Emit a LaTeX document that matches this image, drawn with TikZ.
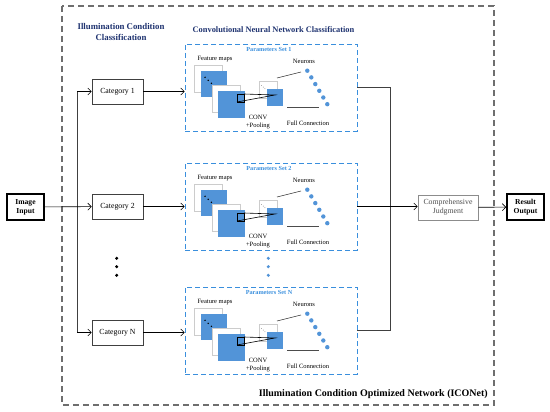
\documentclass[tikz,border=0pt]{standalone}
\usepackage{fontspec}
\setmainfont{Liberation Serif}
\usetikzlibrary{arrows.meta}

\definecolor{navy}{HTML}{1F3370}
\definecolor{psblue}{HTML}{3A8FDD}
\definecolor{mapblue}{HTML}{5294D8}
\definecolor{framegray}{HTML}{6E6E6E}

\tikzset{
  arr/.style={-{Straight Barb[length=3.5pt,width=7pt]}, semithick},
  catbox/.style={draw=black!75, semithick, minimum width=51, minimum height=25, inner sep=0pt, font=\fontsize{7.8}{9}\selectfont},
  iobox/.style={draw, line width=1.6pt, minimum width=37, minimum height=26, inner sep=0pt, align=center, font=\fontsize{7.6}{9}\selectfont\bfseries},
  psbox/.style={draw=psblue, thick, dash pattern=on 5pt off 3pt, minimum width=172, minimum height=87, inner sep=0pt},
  fmap/.style={fill=white, draw=black!20, thin},
  tiny/.style={font=\fontsize{6.5}{7}\selectfont, inner sep=0pt},
}

% contents of one parameter set, origin at the box's top left corner
\newcommand{\cnnmaps}[1]{%
  \node[tiny, text=psblue, font=\fontsize{6.2}{7}\selectfont\bfseries] at (84,5) {Parameters Set #1};
  \node[tiny] at (30,15) {Feature maps};
  \draw[fmap] (9,21) rectangle (37,48);
  \fill[mapblue] (16,27) rectangle (42,53);
  \foreach \d in {0,1,2} \fill (20+3.2*\d,33.3+3*\d) circle (0.8);
  \draw[fmap] (27,41) rectangle (55,68);
  \fill[mapblue] (33,47) rectangle (60,74);
  \draw[black, thin] (52,50) rectangle (59,58);
  \draw[fmap] (74,37) rectangle (92,54);
  \foreach \d in {0,1,2} \fill[black!50] (76.5+1.7*\d,41.5+1.6*\d) circle (0.45);
  \fill[mapblue] (82,45) rectangle (98,62);
  \draw[black, semithick] (59,50) -- (90,51) -- (52,58);
  \draw[black!80, semithick] (92,34) -- (116,28);
  \draw[black!70, semithick] (102,63) -- (134,63);
  \foreach \d in {0,...,5} \fill[mapblue] (122.3+4*\d,26.7+6.7*\d) circle (2.2);
  \node[tiny] at (119,17) {Neurons};
  \node[tiny] at (73,73) {CONV};
  \node[tiny] at (73,82) {+Pooling};
  \node[tiny] at (123,79) {Full Connection};
}

\begin{document}
\begin{tikzpicture}[x=1pt, y=-1pt]
	\useasboundingbox (0,0) rectangle (550,412);
	% outer frame
	\draw[framegray, line width=1.3pt, dash pattern=on 6pt off 4pt] (62,6) rectangle (494,405);
	\node[font=\fontsize{10}{12}\selectfont\bfseries, anchor=east, inner sep=0pt] at (488,394) {Illumination Condition Optimized Network (ICONet)};
	\node[text=navy, align=center, font=\fontsize{8.8}{10.5}\selectfont\bfseries, inner sep=0pt] at (121,32) {Illumination Condition\\Classification};
	\node[text=navy, font=\fontsize{8.4}{10}\selectfont\bfseries, inner sep=0pt] at (273.5,30) {Convolutional Neural Network Classification};

	\begin{scope}[every node/.style={iobox}]
	\node (img) at (25.5,207) {Image\\Input};
	\node (res) at (525.5,207) {Result\\Output};
	\end{scope}

	\begin{scope}[every node/.style={catbox}]
	\node (cat1) at (117.5,91.5) {Category 1};
	\node (cat2) at (117.5,206.5) {Category 2};
	\node (catN) at (117.5,332.5) {Category N};
	\end{scope}

	\node[catbox, draw=black!45, text=black!70, align=center, minimum width=60, font=\fontsize{7.8}{9}\selectfont] (judge) at (448,207.5) {Comprehensive\\Judgment};

	\begin{scope}[every node/.style={psbox}]
	\node (p1) at (271,87.5) {};
	\node (p2) at (271,206.5) {};
	\node (pN) at (271,330.5) {};
	\end{scope}

	\begin{scope}[shift={(185,44)}] \cnnmaps{1} \end{scope}
	\begin{scope}[shift={(185,163)}] \cnnmaps{2} \end{scope}
	\begin{scope}[shift={(185,287)}] \cnnmaps{N} \end{scope}

	% dots between sets
	\foreach \y in {258.3,266.7,275.3} \fill (116.7,\y) circle (1.7);
	\foreach \y in {258.3,266.7,275.3} \fill[mapblue] (268.3,\y) circle (1.7);

	% input side
	\coordinate (b1) at (77,91.5);
	\coordinate (bN) at (77,332.5);
	\draw[semithick, black!75] (b1) -- (bN);
	\draw[arr] (img) -- (cat2);
	\draw[arr] (b1) -- (cat1);
	\draw[arr] (bN) -- (catN);
	\draw[arr] (cat1) -- (cat1 -| p1.west);
	\draw[arr] (cat2) -- (cat2 -| p2.west);
	\draw[arr] (catN) -- (catN -| pN.west);

	% output side
	\coordinate (j1) at (390,87.5);
	\coordinate (jN) at (390,330.5);
	\draw[semithick, black!75] (p1.east) -- (j1) -- (jN) -- (pN.east);
	\draw[arr] (p2.east) -- (p2.east -| judge.west);
	\draw[arr] (judge) -- (res);
\end{tikzpicture}
\end{document}
